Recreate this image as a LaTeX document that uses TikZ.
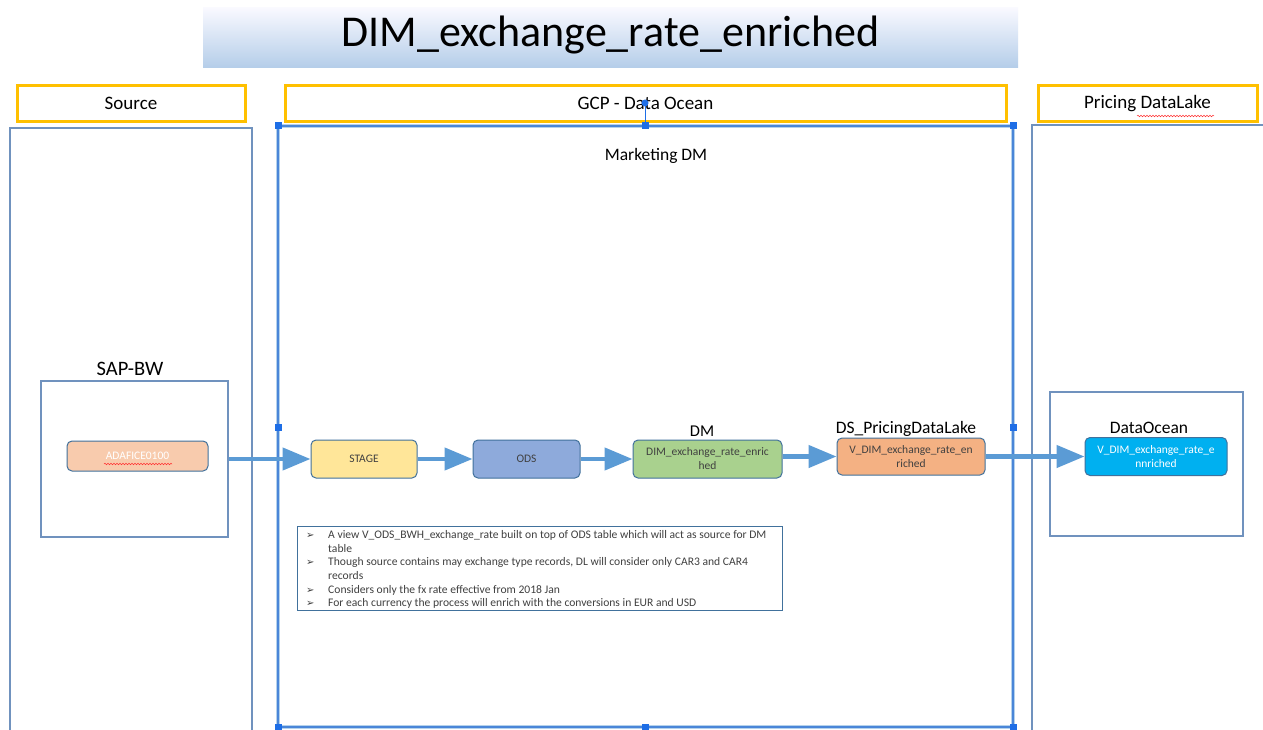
\documentclass[tikz,border=0pt]{standalone}
\usepackage{fontspec}
\setmainfont{Carlito}
\newfontfamily\symfont{DejaVu Sans}
\usetikzlibrary{arrows.meta,decorations.pathmorphing}
\definecolor{colbd}{RGB}{112,146,190}
\definecolor{nodebd}{RGB}{65,113,156}
\definecolor{arrowc}{RGB}{91,155,213}
\definecolor{hdr}{RGB}{255,192,0}
\definecolor{selc}{RGB}{74,134,216}
\definecolor{handc}{RGB}{30,110,230}
\definecolor{txtg}{RGB}{64,64,64}
\definecolor{cstage}{RGB}{255,230,153}
\definecolor{cods}{RGB}{142,170,219}
\definecolor{cdm}{RGB}{169,209,142}
\definecolor{cds}{RGB}{244,177,131}
\definecolor{cdo}{RGB}{0,176,240}
\definecolor{csrc}{RGB}{248,203,173}
\begin{document}
\begin{tikzpicture}[x=1pt,y=-1pt,
  hdrbox/.style={draw=hdr,line width=3pt,fill=white,font=\fontsize{19}{22}\selectfont},
  colbox/.style={draw=colbd,line width=1.2pt},
  flownode/.style={draw=nodebd,line width=1pt,rounded corners=5pt,minimum height=38pt,
     align=center,text=txtg,font=\fontsize{11.5}{14}\selectfont,inner sep=1pt},
  lbl/.style={font=\fontsize{17.5}{20}\selectfont,text=black},
  flow/.style={draw=arrowc,line width=4.5pt,-{Triangle[length=28pt,width=22pt]},shorten >=0pt},
  handle/.style={fill=handc},
  squig/.style={draw=red!80,line width=0.5pt,decorate,decoration={snake,amplitude=0.8pt,segment length=3pt}}
]
\useasboundingbox (0,0) rectangle (1263,730);
\fill[white] (0,0) rectangle (1263,730);

% title
\shade[top color=white!92!blue!30,bottom color={rgb,255:red,180;green,205;blue,233}]
  (203,8) rectangle (1018,68);
\node[font=\fontsize{44}{50}\selectfont] (title) at (610.5,35.5) {DIM\_exchange\_rate\_enriched};

% headers
\node[hdrbox,minimum width=228pt,minimum height=36pt] (hsrc) at (131,103.5) {Source};
\node[hdrbox,minimum width=721pt,minimum height=36pt] (hgcp) at (645.5,103.5) {GCP - Data Ocean};
\node[hdrbox,minimum width=219pt,minimum height=36pt] (hpdl) at (1147.5,103.5) {Pricing DataLake};
\draw[squig] (1137,116) -- (1214,116);

% columns
\draw[colbox] (10,128) rectangle (252,735);
\draw[colbox] (1032,125) rectangle (1268,735);
\draw[draw=arrowc!45,line width=4pt] (278,126) rectangle (1013,727);
\draw[draw=selc,line width=1.3pt] (278,126) rectangle (1013,727);
% selection handles
\draw[handc,line width=0.6pt] (645,103) -- (645,126);
\fill[handc] (645,103) circle (3.5pt);
\foreach \hx/\hy in {278/126,645/126,1013/126,278/427,1013/427,278/727,645/727,1013/727}
  \fill[handle] (\hx-3.5,\hy-3.5) rectangle (\hx+3.5,\hy+3.5);

\node[lbl] (mdm) at (656,156) {Marketing DM};

% SAP-BW
\node[draw=colbd,line width=1.2pt,minimum width=187pt,minimum height=156pt] (sapbw) at (134.5,459) {};
\node[lbl,font=\fontsize{20.5}{23}\selectfont] (sapbwl) at (130,369) {SAP-BW};
\node[flownode,fill=csrc,minimum width=141pt,minimum height=30pt,text=white] (ada) at (137.5,456) {ADAFICE0100};
\draw[squig] (104,464) -- (172,464);

% flow nodes
\node[flownode,fill=cstage,minimum width=106pt] (stage) at (364,459) {STAGE};
\node[flownode,fill=cods,minimum width=107pt] (ods) at (526.5,459) {ODS};
\node[flownode,fill=cdm,minimum width=149pt] (dm) at (707.5,459) {DIM\_exchange\_rate\_enric\\hed};
\node[lbl,font=\fontsize{16.5}{19}\selectfont] (dml) at (702,431) {DM};
\node[flownode,fill=cds,minimum width=148pt,minimum height=37pt] (ds) at (911,456.5) {V\_DIM\_exchange\_rate\_en\\riched};
\node[lbl] (dsl) at (906,429) {DS\_PricingDataLake};

% DataOcean
\node[draw=colbd,line width=1.2pt,minimum width=193pt,minimum height=144pt] (dobox) at (1146.5,464) {};
\node[lbl] (dol) at (1149,428) {DataOcean};
\node[flownode,fill=cdo,minimum width=142pt,text=white] (dov) at (1156,456.5) {V\_DIM\_exchange\_rate\_e\\nnriched};

% arrows
\draw[flow] (sapbw.east) -- (stage.west);
\draw[flow] (stage.east) -- (ods.west);
\draw[flow] (ods.east) -- (dm.west);
\draw[flow] (dm.east |- ds.west) -- (ds.west);
\draw[flow] (ds.east) -- (dov.west);

% notes
\node[draw=nodebd,line width=1pt,minimum width=485pt,minimum height=84pt,anchor=north west,inner sep=0pt] (notes) at (297,526) {};
\node[anchor=north west,inner sep=0pt,text=txtg,font=\fontsize{11.6}{13.6}\selectfont] (notestxt) at (306,529)
{\begin{tabular}{@{}p{22pt}@{}p{455pt}@{}}
{\symfont\fontsize{10}{13.6}\selectfont ➢} & A view V\_ODS\_BWH\_exchange\_rate built on top of ODS table which will act as source for DM\\
 & table\\
{\symfont\fontsize{10}{13.6}\selectfont ➢} & Though source contains may exchange type records, DL will consider only CAR3 and CAR4\\
 & records\\
{\symfont\fontsize{10}{13.6}\selectfont ➢} & Considers only the fx rate effective from 2018 Jan\\
{\symfont\fontsize{10}{13.6}\selectfont ➢} & For each currency the process will enrich with the conversions in EUR and USD
\end{tabular}};
\end{tikzpicture}
\end{document}
